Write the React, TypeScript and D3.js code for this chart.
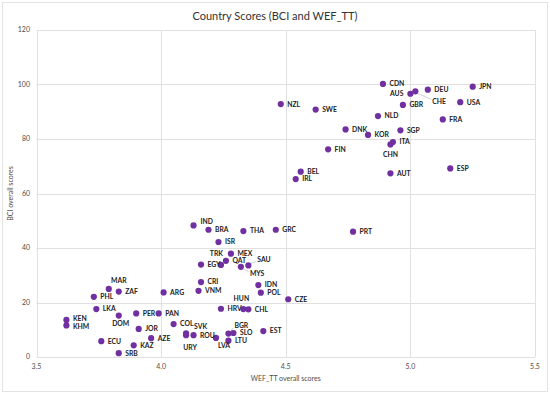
import React, { useEffect, useRef } from 'react';
import * as d3 from 'd3';

const countries = ['CDN', 'AUS', 'CHE', 'DEU', 'JPN', 'GBR', 'USA', 'NZL', 'SWE', 'NLD', 'FRA', 'DNK', 'KOR', 'SGP', 'ITA', 'CHN', 'FIN', 'ESP', 'BEL', 'IRL', 'AUT',
  'GRC', 'PRT', 'CZE', 'IND', 'BRA', 'THA', 'ISR', 'MEX', 'TRK', 'QAT', 'EGY', 'MYS', 'SAU', 'CRI', 'VNM', 'IDN', 'POL', 'MAR', 'ZAF', 'ARG', 'PHL',
  'HRV', 'HUN', 'CHL', 'LKA', 'PER', 'PAN', 'DOM', 'KEN', 'KHM', 'COL', 'JOR', 'SVK', 'URY', 'ROU', 'AZE', 'LVA', 'BGR', 'SLO', 'LTU', 'EST', 'ECU', 'KAZ', 'SRB'];
const wefScores = [4.89, 5.00, 5.02, 5.07, 5.25, 4.97, 5.20, 4.48, 4.62, 4.87, 5.13, 4.74, 4.83, 4.96, 4.93, 4.92, 4.67, 5.16, 4.56, 4.54, 4.92,
  4.46, 4.77, 4.51, 4.13, 4.19, 4.33, 4.23, 4.28, 4.24, 4.26, 4.16, 4.32, 4.35, 4.16, 4.15, 4.39, 4.40, 3.79, 3.83, 4.01, 3.73,
  4.24, 4.33, 4.35, 3.74, 3.90, 3.99, 3.83, 3.62, 3.62, 4.05, 3.91, 4.10, 4.10, 4.13, 3.96, 4.22, 4.27, 4.29, 4.27, 4.41, 3.76, 3.89, 3.83];
const bciScores = [100.2, 96.6, 97.5, 98.1, 99.2, 92.5, 93.5, 92.8, 90.8, 88.4, 87.2, 83.5, 81.5, 83.2, 78.9, 78.0, 76.2, 69.2, 68.0, 65.3, 67.4,
  46.7, 46.0, 21.2, 48.3, 46.7, 46.2, 42.2, 37.9, 33.8, 35.3, 33.9, 33.1, 33.6, 27.5, 24.3, 26.4, 23.6, 25.0, 24.0, 23.7, 22.1,
  17.7, 17.6, 17.5, 17.6, 16.0, 16.0, 15.2, 13.6, 11.6, 12.1, 10.3, 8.7, 8.0, 8.0, 6.9, 7.0, 8.6, 8.8, 6.0, 9.5, 5.8, 4.3, 1.4];

const xTicks = [3.5, 4.0, 4.5, 5.0, 5.5];
const yTicks = [0, 20, 40, 60, 80, 100, 120];

// label offsets that differ from the default (right of the dot)
const labelPlace: Record<string, { dx: number; dy: number; anchor: string; leader?: boolean }> = {
  AUS: { dx: -7, dy: 0, anchor: 'end' },
  CHE: { dx: 17, dy: 10, anchor: 'start', leader: true },
  CHN: { dx: 0, dy: 10, anchor: 'middle' },
  TRK: { dx: 2, dy: -11, anchor: 'end' },
  SAU: { dx: 9, dy: -6, anchor: 'start', leader: true },
  MYS: { dx: 9, dy: 7, anchor: 'start', leader: true },
  HUN: { dx: -2, dy: -10, anchor: 'middle' },
  DOM: { dx: 2, dy: 8, anchor: 'middle' },
  MAR: { dx: 10, dy: -8, anchor: 'middle' },
  IND: { dx: 7, dy: -4, anchor: 'start' },
  SVK: { dx: 8, dy: -7, anchor: 'start' },
  URY: { dx: 4, dy: 12, anchor: 'middle' },
  LVA: { dx: 8, dy: 8, anchor: 'middle' },
  BGR: { dx: 6, dy: -8, anchor: 'start', leader: true },
  KEN: { dx: 6.5, dy: -1.5, anchor: 'start' },
  KHM: { dx: 6.5, dy: 1.5, anchor: 'start' },
};

const W = 550;
const H = 395;
const margin = { left: 36.5, right: 15, top: 30, bottom: 38 };
const font = 'Lato, "Open Sans", sans-serif';

export default function App() {
  const ref = useRef<SVGSVGElement>(null);

  useEffect(() => {
    const svg = d3.select(ref.current);
    svg.selectAll('*').remove();

    const x = d3.scaleLinear().domain([3.5, 5.5]).range([margin.left, W - margin.right]);
    const y = d3.scaleLinear().domain([0, 120]).range([H - margin.bottom, margin.top]);

    svg.append('rect')
      .attr('x', 2.5).attr('y', 2.5).attr('width', W - 5).attr('height', H - 6)
      .attr('fill', '#fff').attr('stroke', '#e3e3e3');

    const grid = svg.append('g').attr('stroke', '#e0e0e0').attr('stroke-width', 1);
    grid.selectAll('.gy').data(yTicks).enter().append('line')
      .attr('x1', x(3.5)).attr('x2', x(5.5))
      .attr('y1', d => Math.round(y(d)) + 0.5).attr('y2', d => Math.round(y(d)) + 0.5);
    grid.selectAll('.gx').data(xTicks).enter().append('line')
      .attr('y1', y(0)).attr('y2', y(120))
      .attr('x1', d => Math.round(x(d)) + 0.5).attr('x2', d => Math.round(x(d)) + 0.5);

    svg.append('g').selectAll('text').data(yTicks).enter().append('text')
      .attr('x', 30).attr('y', d => y(d)).attr('dy', '0.35em')
      .attr('text-anchor', 'end').attr('font-size', 7).attr('fill', '#4d4d4d')
      .attr('font-family', font).text(d => d);

    svg.append('g').selectAll('text').data(xTicks).enter().append('text')
      .attr('x', d => x(d)).attr('y', 369)
      .attr('text-anchor', 'middle').attr('font-size', 7).attr('fill', '#4d4d4d')
      .attr('font-family', font).text(d => d.toFixed(1));

    svg.append('text')
      .attr('x', 275).attr('y', 19.5).attr('text-anchor', 'middle')
      .attr('font-size', 11).attr('fill', '#333').attr('font-family', font)
      .text('Country Scores (BCI and WEF_TT)');

    svg.append('text')
      .attr('x', (x(3.5) + x(5.5)) / 2).attr('y', 381).attr('text-anchor', 'middle')
      .attr('font-size', 7).attr('fill', '#4d4d4d').attr('font-family', font)
      .text('WEF_TT overall scores');

    svg.append('text')
      .attr('transform', `translate(13, ${(y(0) + y(120)) / 2}) rotate(-90)`)
      .attr('text-anchor', 'middle')
      .attr('font-size', 7).attr('fill', '#4d4d4d').attr('font-family', font)
      .text('BCI overall scores');

    const pts = countries.map((c, i) => ({ c, wx: wefScores[i], by: bciScores[i] }));
    const place = (c: string) => labelPlace[c] || { dx: 6.5, dy: 0, anchor: 'start' };

    svg.append('g').selectAll('line').data(pts.filter(p => place(p.c).leader)).enter().append('line')
      .attr('x1', p => x(p.wx) + 2).attr('y1', p => y(p.by) + Math.sign(place(p.c).dy) * 2)
      .attr('x2', p => x(p.wx) + place(p.c).dx - 1).attr('y2', p => y(p.by) + place(p.c).dy - Math.sign(place(p.c).dy) * 2)
      .attr('stroke', '#bfbfbf').attr('stroke-width', 0.7);

    svg.append('g').selectAll('circle').data(pts).enter().append('circle')
      .attr('cx', p => x(p.wx)).attr('cy', p => y(p.by)).attr('r', 3.1)
      .attr('fill', '#7030a0');

    svg.append('g').selectAll('text').data(pts).enter().append('text')
      .attr('x', p => x(p.wx) + place(p.c).dx)
      .attr('y', p => y(p.by) + place(p.c).dy)
      .attr('dy', '0.35em')
      .attr('text-anchor', p => place(p.c).anchor)
      .attr('font-size', 6.8).attr('font-weight', 'bold').attr('fill', '#222')
      .attr('font-family', font)
      .text(p => p.c);
  }, []);

  return (
    <div style={{ position: 'absolute', left: 0, top: 0 }}>
      <svg ref={ref} width={W} height={H} style={{ display: 'block' }} />
    </div>
  );
}
